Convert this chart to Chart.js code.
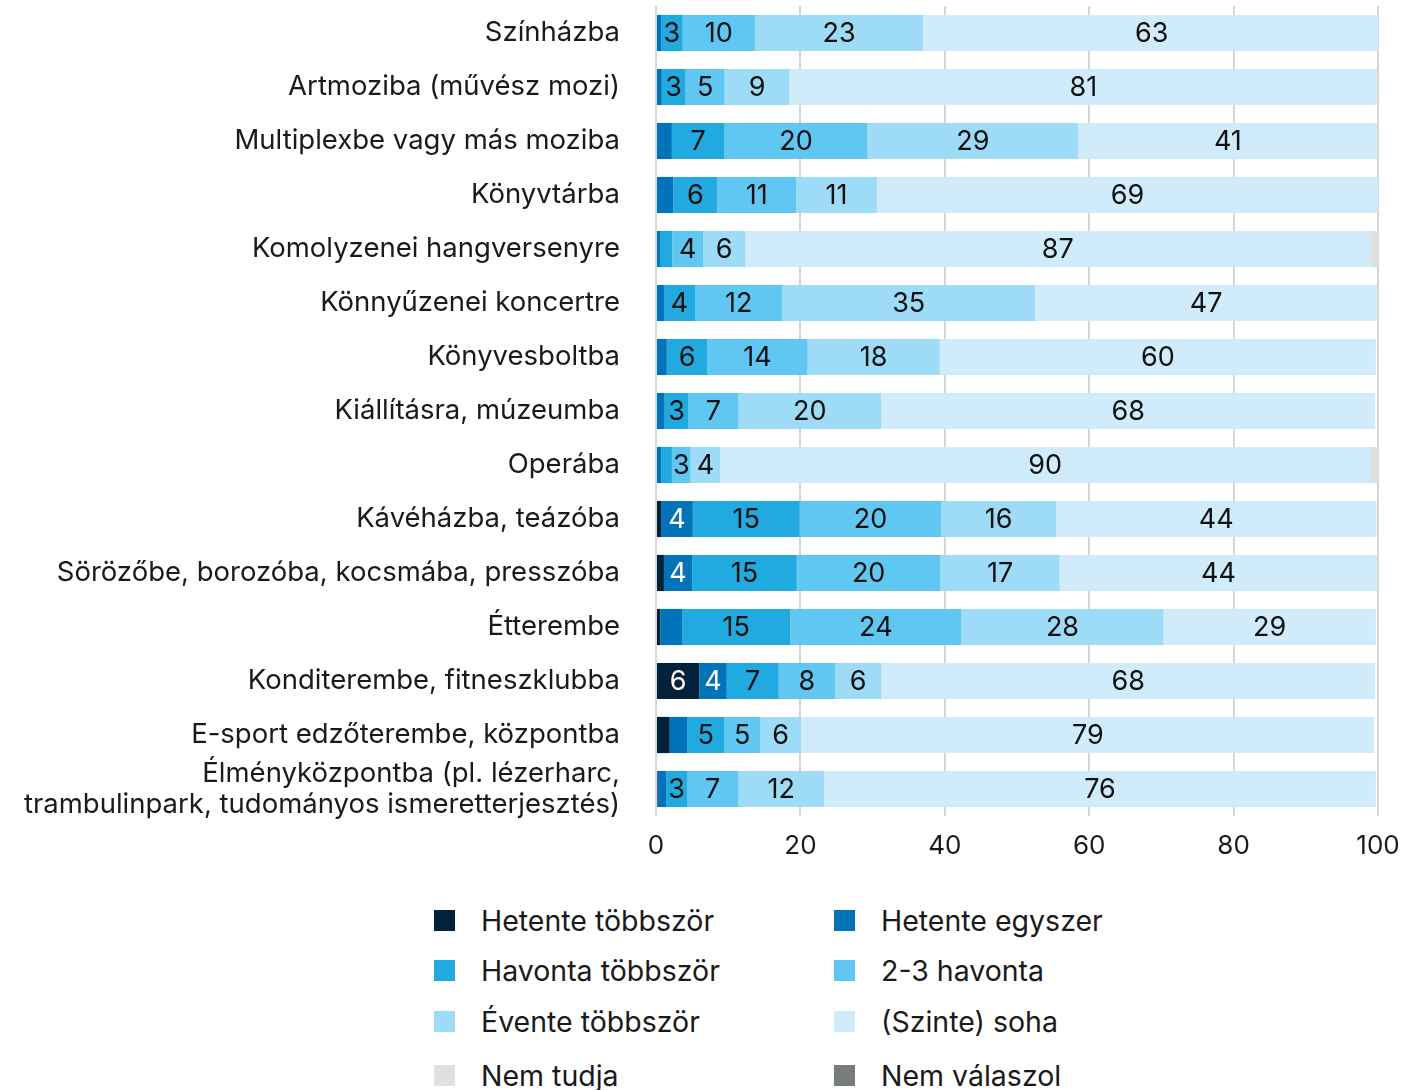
<!DOCTYPE html>
<html>
<head>
<meta charset="utf-8">
<script src="https://cdn.jsdelivr.net/npm/chart.js@4.4.1/dist/chart.umd.min.js"></script>
<style>
  body { margin: 0; background: #fff; font-family: Inter, sans-serif; }
  #wrap { position: relative; width: 1415px; height: 880px; }
  #legend { position: relative; width: 1415px; height: 210px; }
  .item { position: absolute; display: flex; align-items: center; font-size: 28.5px; color: #1a1a1a; }
  .box { width: 21px; height: 21px; margin-right: 26px; }
</style>
</head>
<body>
<div id="wrap"><canvas id="myChart"></canvas></div>
<div id="legend"></div>
<script>
const categories = [
    'Színházba',
    'Artmoziba (művész mozi)',
    'Multiplexbe vagy más moziba',
    'Könyvtárba',
    'Komolyzenei hangversenyre',
    'Könnyűzenei koncertre',
    'Könyvesboltba',
    'Kiállításra, múzeumba',
    'Operába',
    'Kávéházba, teázóba',
    'Sörözőbe, borozóba, kocsmába, presszóba',
    'Étterembe',
    'Konditerembe, fitneszklubba',
    'E-sport edzőterembe, központba',
    ['Élményközpontba (pl. lézerharc,', 'trambulinpark, tudományos ismeretterjesztés)']
];

const hetenteTobbszor = [0, 0, 0, 0, 0, 0, 0, 0, 0, 0.7, 1.1, 0.6, 6, 1.9, 0.2];
const hetenteEgyszer = [0.7, 0.8, 2.2, 2.4, 0.55, 1.1, 1.5, 1.2, 0.7, 4.4, 3.9, 3, 3.8, 2.4, 1.2];
const havontaTobbszor = [3, 3.3, 7.3, 6.1, 1.7, 4.3, 5.6, 3.3, 1.5, 14.8, 14.5, 15, 7.2, 5.2, 2.9];
const havonta23 = [10, 5.4, 19.8, 10.9, 4.3, 12.1, 13.9, 6.9, 2.6, 19.6, 19.9, 23.7, 7.8, 4.9, 7.1];
const eventeTobbszor = [23.3, 9, 29.2, 11.2, 5.8, 35, 18.3, 19.8, 4.1, 15.9, 16.5, 28, 6.4, 5.7, 11.9];
const szinteSoha = [63.3, 81.4, 41.4, 69.4, 86.6, 47.4, 60.4, 68.4, 90, 44.4, 44, 29.4, 68.4, 79.4, 76.4];
const nemTudja = [0, 0, 0, 0, 1.1, 0, 0, 0, 1.1, 0, 0, 0, 0, 0, 0];
const nemValaszol = [0, 0, 0, 0, 0, 0, 0, 0, 0, 0, 0, 0, 0, 0, 0];

const xTicks = [0, 20, 40, 60, 80, 100];

// [dataset, row] labels left out in the original
const hiddenLabels = [[1, 11]];

const series = [
    { label: 'Hetente többször', data: hetenteTobbszor, color: '#01223a', text: '#fff' },
    { label: 'Hetente egyszer', data: hetenteEgyszer, color: '#0073bb', text: '#fff' },
    { label: 'Havonta többször', data: havontaTobbszor, color: '#20aae0', text: '#111' },
    { label: '2-3 havonta', data: havonta23, color: '#60c6f2', text: '#111' },
    { label: 'Évente többször', data: eventeTobbszor, color: '#9ddbf7', text: '#111' },
    { label: '(Szinte) soha', data: szinteSoha, color: '#d0ecfa', text: '#111' },
    { label: 'Nem tudja', data: nemTudja, color: '#e0e0e0', text: '#111' },
    { label: 'Nem válaszol', data: nemValaszol, color: '#787c7d', text: '#fff' }
];

const barLabels = {
    id: 'barLabels',
    afterDatasetsDraw(chart) {
        const ctx = chart.ctx;
        ctx.save();
        ctx.font = '27px Inter';
        ctx.textAlign = 'center';
        ctx.textBaseline = 'middle';
        chart.data.datasets.forEach((ds, i) => {
            const meta = chart.getDatasetMeta(i);
            meta.data.forEach((bar, j) => {
                const v = ds.data[j];
                if (v < 2.5) return;
                if (hiddenLabels.some(h => h[0] === i && h[1] === j)) return;
                ctx.fillStyle = series[i].text;
                ctx.fillText(Math.round(v), (bar.x + bar.base) / 2, bar.y + 1);
            });
        });
        ctx.restore();
    }
};

let ctx = document.getElementById('myChart').getContext('2d');

let myChart = new Chart(ctx, {
    type: 'bar',
    data: {
        labels: categories,
        datasets: series.map(s => ({
            label: s.label,
            data: s.data,
            backgroundColor: s.color,
            borderWidth: 0,
            barPercentage: 0.67,
            categoryPercentage: 1
        }))
    },
    options: {
        indexAxis: 'y',
        responsive: true,
        maintainAspectRatio: false,
        animation: false,
        layout: { padding: { top: 6, right: 37, bottom: 0, left: 0 } },
        plugins: {
            legend: { display: false },
            tooltip: { enabled: false }
        },
        scales: {
            x: {
                stacked: true,
                min: 0,
                max: 100,
                afterBuildTicks: scale => { scale.ticks = xTicks.map(v => ({ value: v })); },
                afterFit: scale => { scale.height = 64; scale.paddingLeft = 0; scale.paddingRight = 0; },
                grid: { color: '#d6d6d6', lineWidth: 2, drawTicks: false },
                border: { display: false },
                ticks: { padding: 15, color: '#1a1a1a', font: { family: 'Inter', size: 26 } }
            },
            y: {
                stacked: true,
                afterFit: scale => { scale.width = 656; scale.paddingTop = 0; scale.paddingBottom = 0; },
                grid: { display: false, drawTicks: false },
                border: { display: false },
                ticks: { autoSkip: false, padding: 36, color: '#1a1a1a', font: { family: 'Inter', size: 27.5, lineHeight: 1.13 } }
            }
        }
    },
    plugins: [barLabels]
});

// legend in two columns
const legend = document.getElementById('legend');
const colX = [434, 834];
const rowY = [40, 90, 141, 195];
series.forEach((s, i) => {
    const el = document.createElement('div');
    el.className = 'item';
    el.style.left = colX[i % 2] + 'px';
    el.style.top = (rowY[Math.floor(i / 2)] - 17) + 'px';
    el.innerHTML = '<span class="box" style="background:' + s.color + '"></span><span>' + s.label + '</span>';
    legend.appendChild(el);
});
</script>
</body>
</html>
